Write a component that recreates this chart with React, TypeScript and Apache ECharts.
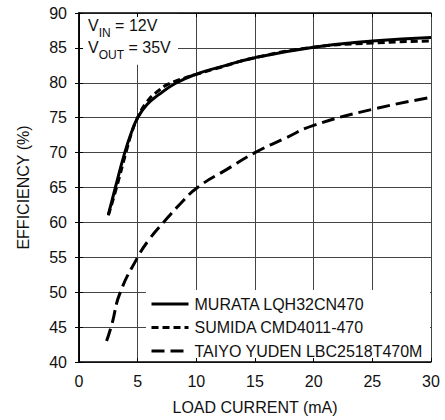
import React, { useEffect, useRef } from "react";
import * as echarts from "echarts";

const xTicks = [0, 5, 10, 15, 20, 25, 30];
const yTicks = [40, 45, 50, 55, 60, 65, 70, 75, 80, 85, 90];

const seriesNames = ["MURATA LQH32CN470", "SUMIDA CMD4011-470", "TAIYO YUDEN LBC2518T470M"];

const murataX = [2.5, 3.1, 3.9, 4.45, 5, 5.8, 6.8, 8.2, 10, 12, 15, 20, 25, 30];
const murataY = [61.1, 65, 70, 72.8, 75, 76.9, 78.3, 79.9, 81.25, 82.25, 83.6, 85.1, 86.0, 86.5];

const sumidaX = [2.5, 3.2, 4.0, 4.5, 5, 5.8, 6.8, 7.6, 8.5, 10, 12, 15, 20, 25, 30];
const sumidaY = [61, 65, 70, 72.9, 75, 77.3, 78.9, 79.8, 80.4, 81.2, 82.2, 83.6, 85.1, 85.7, 86.0];

const taiyoX = [2.35, 2.8, 3.5, 5, 6, 7.2, 8.6, 10.1, 12.6, 15, 17.5, 20, 25, 30];
const taiyoY = [43, 45.4, 49.9, 55, 57.6, 60, 62.6, 65, 67.6, 70, 72.0, 73.9, 76.2, 77.9];

const FONT = "'Liberation Sans Narrow', 'Arial Narrow', 'Liberation Sans', Arial, sans-serif";

export default function App() {
  const ref = useRef<HTMLDivElement>(null);
  useEffect(() => {
    if (!ref.current) return;
    const chart = echarts.init(ref.current, undefined, { renderer: "svg" });
    const zip = (xs: number[], ys: number[]) => xs.map((x, i) => [x, ys[i]]);
    const xMin = xTicks[0], xMax = xTicks[xTicks.length - 1];
    const yMin = yTicks[0], yMax = yTicks[yTicks.length - 1];
    const baseX = { type: "value", min: xMin, max: xMax, interval: 5 };
    const baseY = { type: "value", min: yMin, max: yMax, interval: 5 };
    const hidden = { show: false };
    const textColor = "#111";
    const mkSeries = (i: number, xs: number[], ys: number[], type: any) => ({
      name: seriesNames[i],
      type: "line",
      xAxisIndex: 0,
      yAxisIndex: 0,
      data: zip(xs, ys),
      smooth: 0.5,
      symbol: "none",
      showSymbol: false,
      z: 3,
      lineStyle: { color: "#000", width: 3, type },
      itemStyle: { color: "#000", opacity: 0 },
    });
    chart.setOption({
      animation: false,
      textStyle: { fontFamily: FONT },
      grid: { left: 79, right: 14, top: 13, bottom: 57 },
      xAxis: [
        {
          ...baseX,
          position: "bottom",
          z: 0,
          axisLine: hidden,
          axisTick: hidden,
          axisLabel: hidden,
          splitLine: { show: true, lineStyle: { color: "#444", width: 1 } },
        },
        {
          ...baseX,
          position: "bottom",
          z: 5,
          name: "LOAD CURRENT (mA)",
          nameLocation: "middle",
          nameGap: 37,
          nameTextStyle: { fontSize: 16, color: textColor, fontFamily: FONT },
          axisLine: { show: true, lineStyle: { color: "#000", width: 1.5 } },
          axisTick: { show: true, inside: true, length: 4, lineStyle: { color: "#000" } },
          axisLabel: { show: true, margin: 11, fontSize: 16, color: textColor, fontFamily: FONT },
          splitLine: hidden,
        },
        {
          ...baseX,
          position: "top",
          z: 5,
          axisLine: { show: true, lineStyle: { color: "#000", width: 1.5 } },
          axisTick: { show: true, inside: true, length: 4, lineStyle: { color: "#000" } },
          axisLabel: hidden,
          splitLine: hidden,
        },
      ],
      yAxis: [
        {
          ...baseY,
          position: "left",
          z: 0,
          axisLine: hidden,
          axisTick: hidden,
          axisLabel: hidden,
          splitLine: { show: true, lineStyle: { color: "#444", width: 1 } },
        },
        {
          ...baseY,
          position: "left",
          z: 5,
          name: "EFFICIENCY (%)",
          nameLocation: "middle",
          nameGap: 48,
          nameTextStyle: { fontSize: 16, color: textColor, fontFamily: FONT },
          axisLine: { show: true, lineStyle: { color: "#000", width: 1.5 } },
          axisTick: { show: true, inside: true, length: 4, lineStyle: { color: "#000" } },
          axisLabel: { show: true, margin: 12, fontSize: 16, color: textColor, fontFamily: FONT },
          splitLine: hidden,
        },
        {
          ...baseY,
          position: "right",
          z: 5,
          axisLine: { show: true, lineStyle: { color: "#000", width: 1.5 } },
          axisTick: { show: true, inside: true, length: 4, lineStyle: { color: "#000" } },
          axisLabel: hidden,
          splitLine: hidden,
        },
      ],
      legend: {
        orient: "vertical",
        left: 150,
        top: 296,
        itemWidth: 37,
        itemHeight: 13,
        itemGap: 7.5,
        padding: 0,
        z: 6,
        itemStyle: { opacity: 0 },
        lineStyle: { width: 3, color: "#000" },
        textStyle: { fontSize: 16, color: textColor, fontFamily: FONT, lineHeight: 13, padding: [0, 0, 0, 1] },
        data: seriesNames,
      },
      graphic: [
        {
          type: "rect",
          z: 1,
          shape: { x: 80, y: 13.8, width: 98, height: 51 },
          style: { fill: "#fff" },
        },
        {
          type: "rect",
          z: 1,
          shape: { x: 146, y: 290, width: 284, height: 72 },
          style: { fill: "#fff" },
        },
        {
          type: "text",
          z: 6,
          x: 88,
          y: 17,
          style: {
            text: "{v|V}{s|IN}{v| = 12V}\n{v|V}{s|OUT}{v| = 35V}",
            fontFamily: FONT,
            fill: textColor,
            rich: {
              v: { fontSize: 16, lineHeight: 22, verticalAlign: "top", fontFamily: FONT, fill: textColor },
              s: { fontSize: 12, lineHeight: 14, verticalAlign: "bottom", fontFamily: FONT, fill: textColor },
            },
          },
        },
      ],
      series: [
        mkSeries(0, murataX, murataY, "solid"),
        mkSeries(1, sumidaX, sumidaY, [7, 4]),
        mkSeries(2, taiyoX, taiyoY, [13, 6]),
      ],
    });
    return () => chart.dispose();
  }, []);
  return (
    <div
      ref={ref}
      style={{ position: "fixed", left: 0, top: 0, width: 445, height: 420, background: "#fff" }}
    />
  );
}
